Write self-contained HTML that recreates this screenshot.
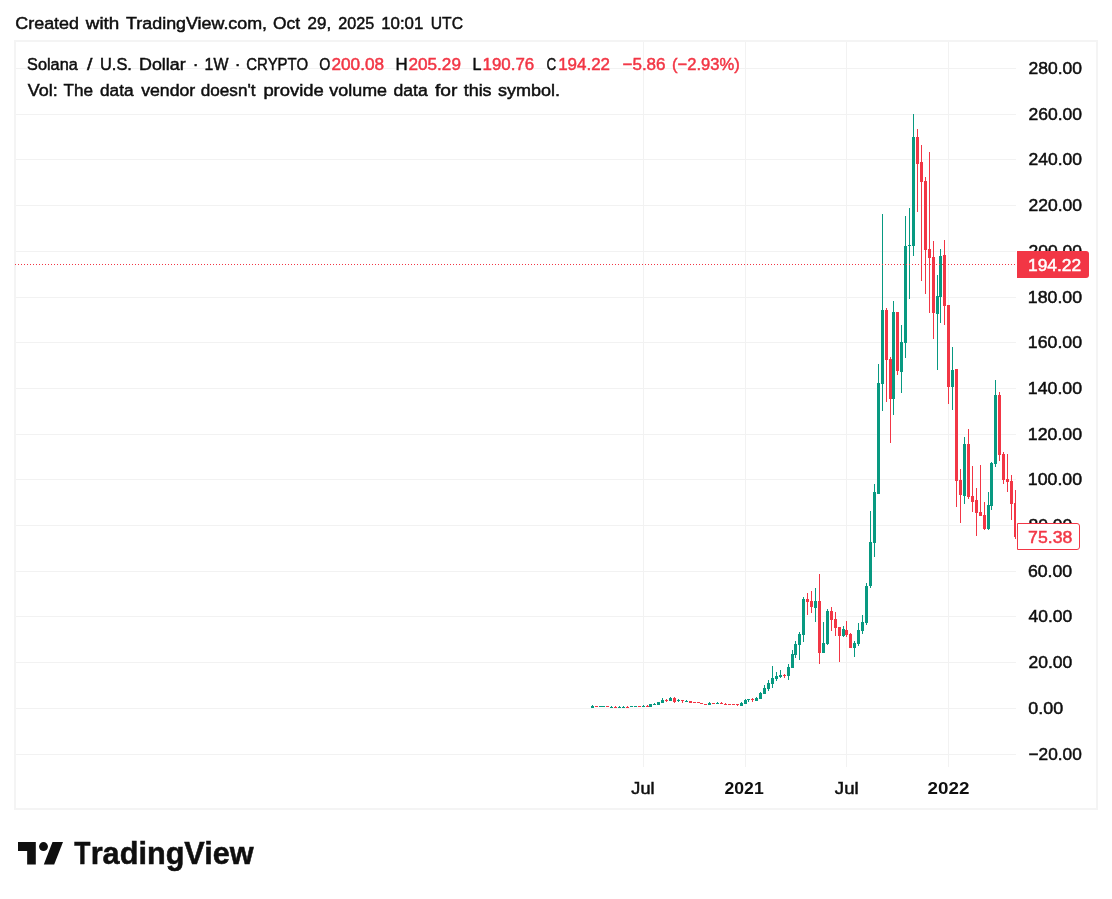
<!DOCTYPE html>
<html lang="en"><head><meta charset="utf-8"><title>SOLUSD chart - TradingView snapshot</title>
<style>html,body{margin:0;padding:0;background:#fff}body{width:1112px;height:899px;overflow:hidden}svg{display:block}text{font-family:"Liberation Sans",Arial,sans-serif;white-space:pre}</style></head><body>
<svg width="1112" height="899" viewBox="0 0 1112 899">
<rect width="1112" height="899" fill="#fff"/>
<g shape-rendering="crispEdges" fill="#f2f2f2">
<rect x="16" y="68" width="1000" height="1"/>
<rect x="16" y="114" width="1000" height="1"/>
<rect x="16" y="159" width="1000" height="1"/>
<rect x="16" y="205" width="1000" height="1"/>
<rect x="16" y="251" width="1000" height="1"/>
<rect x="16" y="297" width="1000" height="1"/>
<rect x="16" y="342" width="1000" height="1"/>
<rect x="16" y="388" width="1000" height="1"/>
<rect x="16" y="434" width="1000" height="1"/>
<rect x="16" y="479" width="1000" height="1"/>
<rect x="16" y="525" width="1000" height="1"/>
<rect x="16" y="571" width="1000" height="1"/>
<rect x="16" y="616" width="1000" height="1"/>
<rect x="16" y="662" width="1000" height="1"/>
<rect x="16" y="708" width="1000" height="1"/>
<rect x="16" y="754" width="1000" height="1"/>
<rect x="643" y="42" width="1" height="725"/>
<rect x="745" y="42" width="1" height="725"/>
<rect x="846" y="42" width="1" height="725"/>
<rect x="948" y="42" width="1" height="725"/>
</g>
<g shape-rendering="crispEdges" fill="#f4f4f4"><rect x="14" y="40" width="1084" height="2"/><rect x="14" y="808" width="1084" height="2"/><rect x="14" y="42" width="2" height="766"/><rect x="1096" y="42" width="2" height="766"/></g>
<defs><clipPath id="pane"><rect x="16" y="42" width="1000" height="725"/></clipPath></defs>
<g shape-rendering="crispEdges" clip-path="url(#pane)">
<rect x="592" y="705" width="1" height="3" fill="#089981"/>
<rect x="591" y="706" width="3" height="2" fill="#089981"/>
<rect x="596" y="706" width="1" height="1" fill="#f23645"/>
<rect x="595" y="706" width="3" height="1" fill="#f23645"/>
<rect x="600" y="706" width="1" height="1" fill="#089981"/>
<rect x="599" y="706" width="3" height="1" fill="#089981"/>
<rect x="603" y="706" width="1" height="1" fill="#089981"/>
<rect x="602" y="706" width="3" height="1" fill="#089981"/>
<rect x="607" y="706" width="1" height="1" fill="#f23645"/>
<rect x="606" y="706" width="3" height="1" fill="#f23645"/>
<rect x="611" y="706" width="1" height="2" fill="#089981"/>
<rect x="610" y="707" width="3" height="1" fill="#089981"/>
<rect x="615" y="706" width="1" height="2" fill="#f23645"/>
<rect x="614" y="707" width="3" height="1" fill="#f23645"/>
<rect x="619" y="706" width="1" height="2" fill="#089981"/>
<rect x="618" y="707" width="3" height="1" fill="#089981"/>
<rect x="623" y="706" width="1" height="2" fill="#089981"/>
<rect x="622" y="707" width="3" height="1" fill="#089981"/>
<rect x="627" y="706" width="1" height="2" fill="#f23645"/>
<rect x="626" y="707" width="3" height="1" fill="#f23645"/>
<rect x="631" y="706" width="1" height="1" fill="#089981"/>
<rect x="630" y="706" width="3" height="1" fill="#089981"/>
<rect x="635" y="706" width="1" height="1" fill="#089981"/>
<rect x="634" y="706" width="3" height="1" fill="#089981"/>
<rect x="639" y="706" width="1" height="1" fill="#f23645"/>
<rect x="638" y="706" width="3" height="1" fill="#f23645"/>
<rect x="643" y="705" width="1" height="2" fill="#089981"/>
<rect x="642" y="706" width="3" height="1" fill="#089981"/>
<rect x="647" y="705" width="1" height="2" fill="#f23645"/>
<rect x="646" y="706" width="3" height="1" fill="#f23645"/>
<rect x="650" y="704" width="1" height="3" fill="#089981"/>
<rect x="649" y="704" width="3" height="3" fill="#089981"/>
<rect x="654" y="703" width="1" height="2" fill="#089981"/>
<rect x="653" y="704" width="3" height="1" fill="#089981"/>
<rect x="658" y="702" width="1" height="3" fill="#089981"/>
<rect x="657" y="702" width="3" height="3" fill="#089981"/>
<rect x="662" y="698" width="1" height="5" fill="#089981"/>
<rect x="661" y="700" width="3" height="3" fill="#089981"/>
<rect x="666" y="699" width="1" height="3" fill="#f23645"/>
<rect x="665" y="700" width="3" height="1" fill="#f23645"/>
<rect x="670" y="697" width="1" height="4" fill="#089981"/>
<rect x="669" y="698" width="3" height="3" fill="#089981"/>
<rect x="674" y="697" width="1" height="6" fill="#f23645"/>
<rect x="673" y="698" width="3" height="4" fill="#f23645"/>
<rect x="678" y="699" width="1" height="3" fill="#089981"/>
<rect x="677" y="700" width="3" height="1" fill="#089981"/>
<rect x="682" y="700" width="1" height="3" fill="#f23645"/>
<rect x="681" y="700" width="3" height="1" fill="#f23645"/>
<rect x="686" y="700" width="1" height="2" fill="#089981"/>
<rect x="685" y="701" width="3" height="1" fill="#089981"/>
<rect x="690" y="701" width="1" height="2" fill="#f23645"/>
<rect x="689" y="701" width="3" height="2" fill="#f23645"/>
<rect x="694" y="702" width="1" height="1" fill="#f23645"/>
<rect x="693" y="702" width="3" height="1" fill="#f23645"/>
<rect x="698" y="702" width="1" height="1" fill="#f23645"/>
<rect x="697" y="702" width="3" height="1" fill="#f23645"/>
<rect x="701" y="703" width="1" height="1" fill="#f23645"/>
<rect x="700" y="703" width="3" height="1" fill="#f23645"/>
<rect x="705" y="704" width="1" height="1" fill="#f23645"/>
<rect x="704" y="704" width="3" height="1" fill="#f23645"/>
<rect x="709" y="702" width="1" height="3" fill="#089981"/>
<rect x="708" y="703" width="3" height="2" fill="#089981"/>
<rect x="713" y="703" width="1" height="1" fill="#f23645"/>
<rect x="712" y="703" width="3" height="1" fill="#f23645"/>
<rect x="717" y="702" width="1" height="2" fill="#089981"/>
<rect x="716" y="703" width="3" height="1" fill="#089981"/>
<rect x="721" y="702" width="1" height="2" fill="#f23645"/>
<rect x="720" y="703" width="3" height="1" fill="#f23645"/>
<rect x="725" y="703" width="1" height="2" fill="#f23645"/>
<rect x="724" y="704" width="3" height="1" fill="#f23645"/>
<rect x="729" y="704" width="1" height="1" fill="#f23645"/>
<rect x="728" y="704" width="3" height="1" fill="#f23645"/>
<rect x="733" y="704" width="1" height="1" fill="#f23645"/>
<rect x="732" y="704" width="3" height="1" fill="#f23645"/>
<rect x="737" y="704" width="1" height="2" fill="#f23645"/>
<rect x="736" y="704" width="3" height="1" fill="#f23645"/>
<rect x="741" y="702" width="1" height="4" fill="#089981"/>
<rect x="740" y="703" width="3" height="3" fill="#089981"/>
<rect x="745" y="699" width="1" height="5" fill="#089981"/>
<rect x="744" y="700" width="3" height="4" fill="#089981"/>
<rect x="748" y="699" width="1" height="3" fill="#089981"/>
<rect x="747" y="699" width="3" height="1" fill="#089981"/>
<rect x="752" y="698" width="1" height="4" fill="#f23645"/>
<rect x="751" y="699" width="3" height="1" fill="#f23645"/>
<rect x="756" y="697" width="1" height="4" fill="#089981"/>
<rect x="755" y="698" width="3" height="3" fill="#089981"/>
<rect x="760" y="692" width="1" height="7" fill="#089981"/>
<rect x="759" y="693" width="3" height="6" fill="#089981"/>
<rect x="764" y="685" width="1" height="9" fill="#089981"/>
<rect x="763" y="688" width="3" height="6" fill="#089981"/>
<rect x="768" y="680" width="1" height="11" fill="#089981"/>
<rect x="767" y="683" width="3" height="6" fill="#089981"/>
<rect x="772" y="666" width="1" height="22" fill="#089981"/>
<rect x="771" y="678" width="3" height="6" fill="#089981"/>
<rect x="776" y="672" width="1" height="9" fill="#089981"/>
<rect x="775" y="676" width="3" height="3" fill="#089981"/>
<rect x="780" y="670" width="1" height="8" fill="#089981"/>
<rect x="779" y="675" width="3" height="2" fill="#089981"/>
<rect x="784" y="674" width="1" height="4" fill="#f23645"/>
<rect x="783" y="675" width="3" height="1" fill="#f23645"/>
<rect x="788" y="664" width="1" height="16" fill="#089981"/>
<rect x="787" y="667" width="3" height="9" fill="#089981"/>
<rect x="792" y="650" width="1" height="18" fill="#089981"/>
<rect x="791" y="654" width="3" height="14" fill="#089981"/>
<rect x="795" y="641" width="1" height="17" fill="#089981"/>
<rect x="794" y="644" width="3" height="11" fill="#089981"/>
<rect x="799" y="632" width="1" height="28" fill="#089981"/>
<rect x="798" y="634" width="3" height="11" fill="#089981"/>
<rect x="803" y="597" width="1" height="45" fill="#089981"/>
<rect x="802" y="599" width="3" height="36" fill="#089981"/>
<rect x="807" y="593" width="1" height="22" fill="#f23645"/>
<rect x="806" y="599" width="3" height="3" fill="#f23645"/>
<rect x="811" y="591" width="1" height="22" fill="#f23645"/>
<rect x="810" y="601" width="3" height="6" fill="#f23645"/>
<rect x="815" y="588" width="1" height="34" fill="#089981"/>
<rect x="814" y="601" width="3" height="7" fill="#089981"/>
<rect x="819" y="574" width="1" height="90" fill="#f23645"/>
<rect x="818" y="601" width="3" height="52" fill="#f23645"/>
<rect x="823" y="622" width="1" height="31" fill="#089981"/>
<rect x="822" y="643" width="3" height="10" fill="#089981"/>
<rect x="827" y="609" width="1" height="36" fill="#089981"/>
<rect x="826" y="611" width="3" height="33" fill="#089981"/>
<rect x="831" y="607" width="1" height="24" fill="#f23645"/>
<rect x="830" y="611" width="3" height="9" fill="#f23645"/>
<rect x="835" y="612" width="1" height="24" fill="#f23645"/>
<rect x="834" y="619" width="3" height="9" fill="#f23645"/>
<rect x="839" y="627" width="1" height="35" fill="#f23645"/>
<rect x="838" y="627" width="3" height="9" fill="#f23645"/>
<rect x="843" y="626" width="1" height="11" fill="#089981"/>
<rect x="842" y="629" width="3" height="7" fill="#089981"/>
<rect x="846" y="621" width="1" height="16" fill="#f23645"/>
<rect x="845" y="630" width="3" height="5" fill="#f23645"/>
<rect x="850" y="633" width="1" height="15" fill="#f23645"/>
<rect x="849" y="634" width="3" height="14" fill="#f23645"/>
<rect x="854" y="641" width="1" height="16" fill="#089981"/>
<rect x="853" y="643" width="3" height="5" fill="#089981"/>
<rect x="858" y="623" width="1" height="23" fill="#089981"/>
<rect x="857" y="630" width="3" height="14" fill="#089981"/>
<rect x="862" y="615" width="1" height="19" fill="#089981"/>
<rect x="861" y="622" width="3" height="9" fill="#089981"/>
<rect x="866" y="583" width="1" height="42" fill="#089981"/>
<rect x="865" y="586" width="3" height="37" fill="#089981"/>
<rect x="870" y="511" width="1" height="77" fill="#089981"/>
<rect x="869" y="542" width="3" height="44" fill="#089981"/>
<rect x="874" y="484" width="1" height="73" fill="#089981"/>
<rect x="873" y="492" width="3" height="51" fill="#089981"/>
<rect x="878" y="364" width="1" height="130" fill="#089981"/>
<rect x="877" y="383" width="3" height="111" fill="#089981"/>
<rect x="882" y="214" width="1" height="197" fill="#089981"/>
<rect x="881" y="310" width="3" height="74" fill="#089981"/>
<rect x="886" y="308" width="1" height="94" fill="#f23645"/>
<rect x="885" y="310" width="3" height="50" fill="#f23645"/>
<rect x="890" y="357" width="1" height="86" fill="#f23645"/>
<rect x="889" y="359" width="3" height="40" fill="#f23645"/>
<rect x="893" y="301" width="1" height="114" fill="#089981"/>
<rect x="892" y="312" width="3" height="87" fill="#089981"/>
<rect x="897" y="312" width="1" height="63" fill="#f23645"/>
<rect x="896" y="312" width="3" height="59" fill="#f23645"/>
<rect x="901" y="325" width="1" height="68" fill="#089981"/>
<rect x="900" y="342" width="3" height="30" fill="#089981"/>
<rect x="905" y="216" width="1" height="142" fill="#089981"/>
<rect x="904" y="246" width="3" height="97" fill="#089981"/>
<rect x="909" y="208" width="1" height="91" fill="#089981"/>
<rect x="908" y="245" width="3" height="1" fill="#089981"/>
<rect x="913" y="114" width="1" height="142" fill="#089981"/>
<rect x="912" y="137" width="3" height="109" fill="#089981"/>
<rect x="917" y="129" width="1" height="83" fill="#f23645"/>
<rect x="916" y="137" width="3" height="27" fill="#f23645"/>
<rect x="921" y="145" width="1" height="136" fill="#f23645"/>
<rect x="920" y="162" width="3" height="20" fill="#f23645"/>
<rect x="925" y="177" width="1" height="117" fill="#f23645"/>
<rect x="924" y="181" width="3" height="69" fill="#f23645"/>
<rect x="929" y="152" width="1" height="161" fill="#f23645"/>
<rect x="928" y="249" width="3" height="9" fill="#f23645"/>
<rect x="933" y="241" width="1" height="98" fill="#f23645"/>
<rect x="932" y="257" width="3" height="56" fill="#f23645"/>
<rect x="937" y="275" width="1" height="95" fill="#089981"/>
<rect x="936" y="296" width="3" height="18" fill="#089981"/>
<rect x="940" y="249" width="1" height="74" fill="#089981"/>
<rect x="939" y="256" width="3" height="41" fill="#089981"/>
<rect x="944" y="240" width="1" height="85" fill="#f23645"/>
<rect x="943" y="255" width="3" height="51" fill="#f23645"/>
<rect x="948" y="305" width="1" height="99" fill="#f23645"/>
<rect x="947" y="305" width="3" height="82" fill="#f23645"/>
<rect x="952" y="347" width="1" height="63" fill="#089981"/>
<rect x="951" y="370" width="3" height="17" fill="#089981"/>
<rect x="956" y="369" width="1" height="138" fill="#f23645"/>
<rect x="955" y="369" width="3" height="112" fill="#f23645"/>
<rect x="960" y="469" width="1" height="54" fill="#f23645"/>
<rect x="959" y="480" width="3" height="15" fill="#f23645"/>
<rect x="964" y="437" width="1" height="67" fill="#089981"/>
<rect x="963" y="444" width="3" height="52" fill="#089981"/>
<rect x="968" y="429" width="1" height="70" fill="#f23645"/>
<rect x="967" y="444" width="3" height="53" fill="#f23645"/>
<rect x="972" y="466" width="1" height="46" fill="#f23645"/>
<rect x="971" y="496" width="3" height="6" fill="#f23645"/>
<rect x="976" y="488" width="1" height="48" fill="#f23645"/>
<rect x="975" y="500" width="3" height="13" fill="#f23645"/>
<rect x="980" y="465" width="1" height="51" fill="#f23645"/>
<rect x="979" y="512" width="3" height="4" fill="#f23645"/>
<rect x="984" y="502" width="1" height="28" fill="#f23645"/>
<rect x="983" y="515" width="3" height="14" fill="#f23645"/>
<rect x="988" y="492" width="1" height="38" fill="#089981"/>
<rect x="987" y="505" width="3" height="24" fill="#089981"/>
<rect x="991" y="462" width="1" height="48" fill="#089981"/>
<rect x="990" y="463" width="3" height="43" fill="#089981"/>
<rect x="995" y="380" width="1" height="87" fill="#089981"/>
<rect x="994" y="395" width="3" height="69" fill="#089981"/>
<rect x="999" y="392" width="1" height="69" fill="#f23645"/>
<rect x="998" y="395" width="3" height="60" fill="#f23645"/>
<rect x="1003" y="452" width="1" height="32" fill="#f23645"/>
<rect x="1002" y="454" width="3" height="26" fill="#f23645"/>
<rect x="1007" y="454" width="1" height="38" fill="#f23645"/>
<rect x="1006" y="479" width="3" height="3" fill="#f23645"/>
<rect x="1011" y="475" width="1" height="45" fill="#f23645"/>
<rect x="1010" y="481" width="3" height="23" fill="#f23645"/>
<rect x="1015" y="490" width="1" height="49" fill="#f23645"/>
<rect x="1014" y="503" width="3" height="34" fill="#f23645"/>
</g>
<line x1="15" y1="264.5" x2="1016" y2="264.5" stroke="#f23645" stroke-width="1" stroke-dasharray="1 2" shape-rendering="crispEdges"/>
<text class="title" y="29" font-size="17.4"><tspan id="t0" x="15.35" fill="#0f0f0f" stroke="#0f0f0f" stroke-width="0.5" textLength="63.63" lengthAdjust="spacingAndGlyphs">Created</tspan> <tspan id="t1" x="85.82" fill="#0f0f0f" stroke="#0f0f0f" stroke-width="0.5" textLength="33.51" lengthAdjust="spacingAndGlyphs">with</tspan> <tspan id="t2" x="126.10" fill="#0f0f0f" stroke="#0f0f0f" stroke-width="0.5" textLength="140.99" lengthAdjust="spacingAndGlyphs">TradingView.com,</tspan> <tspan id="t3" x="273.11" fill="#0f0f0f" stroke="#0f0f0f" stroke-width="0.5" textLength="27.03" lengthAdjust="spacingAndGlyphs">Oct</tspan> <tspan id="t4" x="307.50" fill="#0f0f0f" stroke="#0f0f0f" stroke-width="0.5" textLength="23.62" lengthAdjust="spacingAndGlyphs">29,</tspan> <tspan id="t5" x="338.18" fill="#0f0f0f" stroke="#0f0f0f" stroke-width="0.5" textLength="35.96" lengthAdjust="spacingAndGlyphs">2025</tspan> <tspan id="t6" x="381.22" fill="#0f0f0f" stroke="#0f0f0f" stroke-width="0.5" textLength="42.11" lengthAdjust="spacingAndGlyphs">10:01</tspan> <tspan id="t7" x="430.78" fill="#0f0f0f" stroke="#0f0f0f" stroke-width="0.5" textLength="32.26" lengthAdjust="spacingAndGlyphs">UTC</tspan></text>
<text class="l1" y="70" font-size="17.4"><tspan id="a0" x="27.11" fill="#0f0f0f" stroke="#0f0f0f" stroke-width="0.5" textLength="50.63" lengthAdjust="spacingAndGlyphs">Solana</tspan> <tspan id="a1" x="86.91" fill="#0f0f0f" stroke="#0f0f0f" stroke-width="0.5" textLength="5.41" lengthAdjust="spacingAndGlyphs">/</tspan> <tspan id="a2" x="100.00" fill="#0f0f0f" stroke="#0f0f0f" stroke-width="0.5" textLength="31.88" lengthAdjust="spacingAndGlyphs">U.S.</tspan> <tspan id="a3" x="139.00" fill="#0f0f0f" stroke="#0f0f0f" stroke-width="0.5" textLength="46.67" lengthAdjust="spacingAndGlyphs">Dollar</tspan> <tspan id="a4" x="192.69" fill="#0f0f0f" stroke="#0f0f0f" stroke-width="0.5">·</tspan> <tspan id="a5" x="204.61" fill="#0f0f0f" stroke="#0f0f0f" stroke-width="0.5" textLength="23.80" lengthAdjust="spacingAndGlyphs">1W</tspan> <tspan id="a6" x="234.73" fill="#0f0f0f" stroke="#0f0f0f" stroke-width="0.5">·</tspan> <tspan id="a7" x="246.32" fill="#0f0f0f" stroke="#0f0f0f" stroke-width="0.5" textLength="61.73" lengthAdjust="spacingAndGlyphs">CRYPTO</tspan> <tspan id="a8" x="319.25" fill="#0f0f0f" stroke="#0f0f0f" stroke-width="0.5" textLength="11.09" lengthAdjust="spacingAndGlyphs">O</tspan><tspan id="a9" x="331.50" fill="#f23645" stroke="#f23645" stroke-width="0.5" textLength="52.60" lengthAdjust="spacingAndGlyphs">200.08</tspan> <tspan id="a10" x="395.50" fill="#0f0f0f" stroke="#0f0f0f" stroke-width="0.5" textLength="12.15" lengthAdjust="spacingAndGlyphs">H</tspan><tspan id="a11" x="408.50" fill="#f23645" stroke="#f23645" stroke-width="0.5" textLength="52.42" lengthAdjust="spacingAndGlyphs">205.29</tspan> <tspan id="a12" x="472.50" fill="#0f0f0f" stroke="#0f0f0f" stroke-width="0.5" textLength="8.93" lengthAdjust="spacingAndGlyphs">L</tspan><tspan id="a13" x="482.50" fill="#f23645" stroke="#f23645" stroke-width="0.5" textLength="51.71" lengthAdjust="spacingAndGlyphs">190.76</tspan> <tspan id="a14" x="546.47" fill="#0f0f0f" stroke="#0f0f0f" stroke-width="0.5" textLength="9.69" lengthAdjust="spacingAndGlyphs">C</tspan><tspan id="a15" x="558.19" fill="#f23645" stroke="#f23645" stroke-width="0.5" textLength="51.87" lengthAdjust="spacingAndGlyphs">194.22</tspan> <tspan id="a16" x="622.50" fill="#f23645" stroke="#f23645" stroke-width="0.5" textLength="43.05" lengthAdjust="spacingAndGlyphs">−5.86</tspan> <tspan id="a17" x="672.05" fill="#f23645" stroke="#f23645" stroke-width="0.5" textLength="67.70" lengthAdjust="spacingAndGlyphs">(−2.93%)</tspan></text>
<text class="l2" y="96" font-size="17.4"><tspan id="b0" x="27.79" fill="#0f0f0f" stroke="#0f0f0f" stroke-width="0.5" textLength="29.93" lengthAdjust="spacingAndGlyphs">Vol:</tspan> <tspan id="b1" x="63.50" fill="#0f0f0f" stroke="#0f0f0f" stroke-width="0.5" textLength="29.49" lengthAdjust="spacingAndGlyphs">The</tspan> <tspan id="b2" x="100.00" fill="#0f0f0f" stroke="#0f0f0f" stroke-width="0.5" textLength="33.56" lengthAdjust="spacingAndGlyphs">data</tspan> <tspan id="b3" x="141.19" fill="#0f0f0f" stroke="#0f0f0f" stroke-width="0.5" textLength="54.07" lengthAdjust="spacingAndGlyphs">vendor</tspan> <tspan id="b4" x="200.73" fill="#0f0f0f" stroke="#0f0f0f" stroke-width="0.5" textLength="54.73" lengthAdjust="spacingAndGlyphs">doesn't</tspan> <tspan id="b5" x="263.40" fill="#0f0f0f" stroke="#0f0f0f" stroke-width="0.5" textLength="60.36" lengthAdjust="spacingAndGlyphs">provide</tspan> <tspan id="b6" x="329.36" fill="#0f0f0f" stroke="#0f0f0f" stroke-width="0.5" textLength="57.59" lengthAdjust="spacingAndGlyphs">volume</tspan> <tspan id="b7" x="393.50" fill="#0f0f0f" stroke="#0f0f0f" stroke-width="0.5" textLength="34.27" lengthAdjust="spacingAndGlyphs">data</tspan> <tspan id="b8" x="435.00" fill="#0f0f0f" stroke="#0f0f0f" stroke-width="0.5" textLength="22.40" lengthAdjust="spacingAndGlyphs">for</tspan> <tspan id="b9" x="463.69" fill="#0f0f0f" stroke="#0f0f0f" stroke-width="0.5" textLength="27.90" lengthAdjust="spacingAndGlyphs">this</tspan> <tspan id="b10" x="497.93" fill="#0f0f0f" stroke="#0f0f0f" stroke-width="0.5" textLength="61.96" lengthAdjust="spacingAndGlyphs">symbol.</tspan></text>
<g class="price">
<text id="p280" x="1028.50" y="74" font-size="17.4" fill="#0f0f0f" stroke="#0f0f0f" stroke-width="0.5" textLength="53.49" lengthAdjust="spacingAndGlyphs">280.00</text>
<text id="p260" x="1028.50" y="120" font-size="17.4" fill="#0f0f0f" stroke="#0f0f0f" stroke-width="0.5" textLength="53.49" lengthAdjust="spacingAndGlyphs">260.00</text>
<text id="p240" x="1028.50" y="165" font-size="17.4" fill="#0f0f0f" stroke="#0f0f0f" stroke-width="0.5" textLength="53.49" lengthAdjust="spacingAndGlyphs">240.00</text>
<text id="p220" x="1028.50" y="211" font-size="17.4" fill="#0f0f0f" stroke="#0f0f0f" stroke-width="0.5" textLength="53.49" lengthAdjust="spacingAndGlyphs">220.00</text>
<text id="p200" x="1028.50" y="257" font-size="17.4" fill="#0f0f0f" stroke="#0f0f0f" stroke-width="0.5" textLength="53.49" lengthAdjust="spacingAndGlyphs">200.00</text>
<text id="p180" x="1027.80" y="303" font-size="17.4" fill="#0f0f0f" stroke="#0f0f0f" stroke-width="0.5" textLength="54.27" lengthAdjust="spacingAndGlyphs">180.00</text>
<text id="p160" x="1027.80" y="348" font-size="17.4" fill="#0f0f0f" stroke="#0f0f0f" stroke-width="0.5" textLength="54.27" lengthAdjust="spacingAndGlyphs">160.00</text>
<text id="p140" x="1027.80" y="394" font-size="17.4" fill="#0f0f0f" stroke="#0f0f0f" stroke-width="0.5" textLength="54.27" lengthAdjust="spacingAndGlyphs">140.00</text>
<text id="p120" x="1027.80" y="440" font-size="17.4" fill="#0f0f0f" stroke="#0f0f0f" stroke-width="0.5" textLength="54.27" lengthAdjust="spacingAndGlyphs">120.00</text>
<text id="p100" x="1027.80" y="485" font-size="17.4" fill="#0f0f0f" stroke="#0f0f0f" stroke-width="0.5" textLength="54.27" lengthAdjust="spacingAndGlyphs">100.00</text>
<text id="p80" x="1028.50" y="531" font-size="17.4" fill="#0f0f0f" stroke="#0f0f0f" stroke-width="0.5" textLength="43.74" lengthAdjust="spacingAndGlyphs">80.00</text>
<text id="p60" x="1027.92" y="577" font-size="17.4" fill="#0f0f0f" stroke="#0f0f0f" stroke-width="0.5" textLength="44.33" lengthAdjust="spacingAndGlyphs">60.00</text>
<text id="p40" x="1028.59" y="622" font-size="17.4" fill="#0f0f0f" stroke="#0f0f0f" stroke-width="0.5" textLength="43.65" lengthAdjust="spacingAndGlyphs">40.00</text>
<text id="p20" x="1028.50" y="668" font-size="17.4" fill="#0f0f0f" stroke="#0f0f0f" stroke-width="0.5" textLength="43.74" lengthAdjust="spacingAndGlyphs">20.00</text>
<text id="p0" x="1028.29" y="714" font-size="17.4" fill="#0f0f0f" stroke="#0f0f0f" stroke-width="0.5" textLength="34.82" lengthAdjust="spacingAndGlyphs">0.00</text>
<text id="pm20" x="1028.50" y="760" font-size="17.4" fill="#0f0f0f" stroke="#0f0f0f" stroke-width="0.5" textLength="53.23" lengthAdjust="spacingAndGlyphs">−20.00</text>
</g>
<g class="time">
<text id="x0" x="631.35" y="794" font-size="17.4" fill="#0f0f0f" stroke="#0f0f0f" stroke-width="0.5" textLength="23.10" lengthAdjust="spacingAndGlyphs">Jul</text>
<text id="x1" x="724.50" y="794" font-size="17.4" fill="#0f0f0f" font-weight="bold" textLength="39.22" lengthAdjust="spacingAndGlyphs">2021</text>
<text id="x2" x="834.85" y="794" font-size="17.4" fill="#0f0f0f" stroke="#0f0f0f" stroke-width="0.5" textLength="23.78" lengthAdjust="spacingAndGlyphs">Jul</text>
<text id="x3" x="927.49" y="794" font-size="17.4" fill="#0f0f0f" font-weight="bold" textLength="41.87" lengthAdjust="spacingAndGlyphs">2022</text>
</g>
<path d="M1017 251h69a3 3 0 0 1 3 3v21a3 3 0 0 1-3 3h-69z" fill="#f23645"/>
<path d="M1017.5 523.5H1077a2.5 2.5 0 0 1 2.5 2.5V547a2.5 2.5 0 0 1-2.5 2.5H1017.5z" fill="#fff" stroke="#f23645" stroke-width="1"/>
<text id="lb1" x="1028.00" y="271" font-size="17.4" fill="#ffffff" stroke="#ffffff" stroke-width="0.5" textLength="53.20" lengthAdjust="spacingAndGlyphs">194.22</text>
<text id="lb2" x="1028.10" y="543" font-size="17.4" fill="#f23645" stroke="#f23645" stroke-width="0.5" textLength="44.25" lengthAdjust="spacingAndGlyphs">75.38</text>
<g fill="#0f0f0f"><path d="M18 842.1H35.8V864.5H27.15V851H18Z"/><circle cx="43.5" cy="846.55" r="4.45"/><path d="M52.5 842.1H63L54.2 864.5H43.8Z"/></g>
<text class="logo" y="864" font-size="31.2" font-weight="bold"><tspan id="logoT" x="74.18" fill="#0f0f0f" stroke="#0f0f0f" stroke-width="0.5" textLength="16.15" lengthAdjust="spacingAndGlyphs">T</tspan><tspan id="logoR" x="90.66" fill="#0f0f0f" stroke="#0f0f0f" stroke-width="0.5" textLength="163.04" lengthAdjust="spacingAndGlyphs">radingView</tspan></text>
</svg></body></html>
